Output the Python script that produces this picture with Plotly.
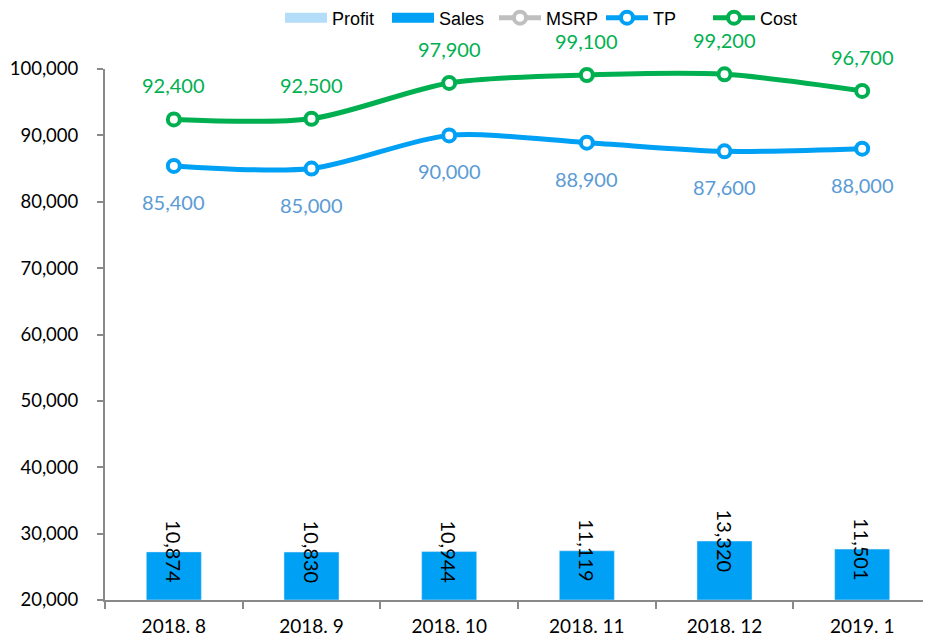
import plotly.graph_objects as go

categories = ["2018. 8", "2018. 9", "2018. 10", "2018. 11", "2018. 12", "2019. 1"]
sales = [10874, 10830, 10944, 11119, 13320, 11501]
profit = [None, None, None, None, None, None]
msrp = [None, None, None, None, None, None]
tp = [85400, 85000, 90000, 88900, 87600, 88000]
cost = [92400, 92500, 97900, 99100, 99200, 96700]
y_ticks = [20000, 30000, 40000, 50000, 60000, 70000, 80000, 90000, 100000]

C_PROFIT = "#B4DDF9"
C_SALES = "#00A0F4"
C_MSRP = "#BFBFBF"
C_TP = "#00A0F4"
C_COST = "#00B050"
C_TP_LBL = "#5B9BD5"
LBL_FONT = "Lato"

fig = go.Figure()
# bars (legend drawn by wide swatch traces below)
fig.add_trace(go.Bar(x=categories, y=profit, name="Profit", marker_color=C_PROFIT,
                     yaxis="y2", width=0.4, showlegend=False))
fig.add_trace(go.Bar(x=categories, y=sales, name="Sales", marker_color=C_SALES,
                     yaxis="y2", width=0.4, showlegend=False))
# legend swatches for bar series
fig.add_trace(go.Scatter(x=categories, y=profit, name="Profit", mode="lines",
                         line=dict(color=C_PROFIT, width=11)))
fig.add_trace(go.Scatter(x=categories, y=profit, name="Sales", mode="lines",
                         line=dict(color=C_SALES, width=11)))
marker_common = dict(symbol="circle", size=12, color="white")
fig.add_trace(go.Scatter(x=categories, y=msrp, name="MSRP", mode="lines+markers",
                         line=dict(color=C_MSRP, width=5),
                         marker=dict(**marker_common, line=dict(color=C_MSRP, width=4))))
fig.add_trace(go.Scatter(x=categories, y=tp, name="TP", mode="lines+markers",
                         line=dict(color=C_TP, width=5, shape="spline", smoothing=0.8),
                         marker=dict(**marker_common, line=dict(color=C_TP, width=4))))
fig.add_trace(go.Scatter(x=categories, y=cost, name="Cost", mode="lines+markers",
                         line=dict(color=C_COST, width=5, shape="spline", smoothing=0.8),
                         marker=dict(**marker_common, line=dict(color=C_COST, width=4))))

annotations = []
for c, v in zip(categories, cost):
    annotations.append(dict(x=c, y=v, xref="x", yref="y", text=f"{v:,}", showarrow=False,
                            yshift=34, font=dict(family=LBL_FONT, size=20, color=C_COST)))
for c, v in zip(categories, tp):
    annotations.append(dict(x=c, y=v, xref="x", yref="y", text=f"{v:,}", showarrow=False,
                            yshift=-36, font=dict(family=LBL_FONT, size=20, color=C_TP_LBL)))
for c, v in zip(categories, sales):
    annotations.append(dict(x=c, y=v, xref="x", yref="y2", text=f"{v:,}", showarrow=False,
                            textangle=90, yshift=0,
                            font=dict(family=LBL_FONT, size=20, color="black")))

fig.update_layout(
    width=931, height=637,
    margin=dict(l=97, r=8, t=61, b=45, autoexpand=False),
    paper_bgcolor="white", plot_bgcolor="white",
    barmode="overlay",
    showlegend=True,
    legend=dict(orientation="h", x=(280 - 105) / 826, xanchor="left",
                y=1 + (61 - 10) / 531, yanchor="middle", yref="paper",
                font=dict(family="Liberation Sans", size=18, color="black"),
                traceorder="normal", itemwidth=42, entrywidth=50, entrywidthmode="pixels",
                bgcolor="rgba(0,0,0,0)", tracegroupgap=0),
    xaxis=dict(showgrid=False, showline=True, linecolor="#898989", linewidth=2,
               ticks="outside", tickson="boundaries", ticklen=7, tickcolor="#898989",
               tickwidth=2, ticklabelstandoff=8,
               tickfont=dict(family=LBL_FONT, size=19, color="black")),
    yaxis=dict(range=[20000, 100000], tickvals=y_ticks, tickformat=",d",
               showgrid=False, showline=True, linecolor="#898989", linewidth=2,
               ticks="outside", ticklen=6, tickcolor="#898989", tickwidth=2,
               zeroline=False, ticklabelstandoff=15,
               tickfont=dict(family=LBL_FONT, size=18.5, color="black")),
    yaxis2=dict(range=[0, 120000], overlaying="y", side="right", visible=False,
                showgrid=False, zeroline=False),
    annotations=annotations,
)
fig.update_traces(cliponaxis=False, selector=dict(type="scatter"))

fig.write_html("out.html")
